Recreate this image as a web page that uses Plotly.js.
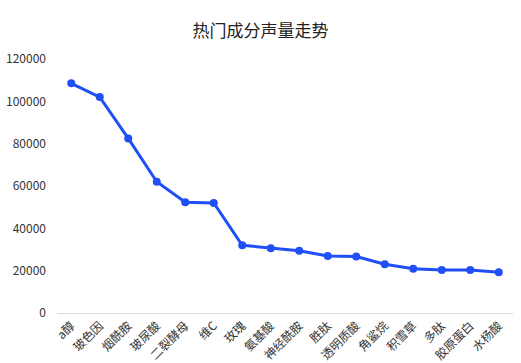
<!DOCTYPE html>
<html><head><meta charset="utf-8">
<script src="https://cdn.plot.ly/plotly-3.0.1.min.js"></script>
<style>html,body{margin:0;padding:0;background:#fff}</style>
</head><body>
<div id="chart" style="width:521px;height:363px"></div>
<script>
const categories = ["a醇","玻色因","烟酰胺","玻尿酸","二裂酵母","维C","玫瑰","氨基酸","神经酰胺","胜肽","透明质酸","角鲨烷","积雪草","多肽","胶原蛋白","水杨酸"];
const volumes = [108500,102000,82500,62000,52300,52000,32000,30600,29400,26900,26700,23000,20900,20300,20300,19200];
const yTicks = [0,20000,40000,60000,80000,100000,120000];

const font = "'Noto Sans CJK SC', 'Noto Sans', sans-serif";
Plotly.newPlot('chart', [{
  x: categories, y: volumes, type: 'scatter', mode: 'lines+markers',
  line: {color: '#1f4ff5', width: 3},
  marker: {color: '#1f4ff5', size: 8}
}], {
  width: 521, height: 363,
  margin: {l: 57, r: 8, t: 59, b: 50},
  paper_bgcolor: '#fff', plot_bgcolor: '#fff',
  title: {text: '热门成分声量走势', font: {family: font, size: 17, color: '#222'}, x: 0.5, xanchor: 'center', y: 0.915, yanchor: 'middle'},
  xaxis: {type: 'category', range: [-0.5, categories.length - 0.5], tickangle: -45, tickfont: {family: font, size: 12, color: '#333'},
    showgrid: false, showline: true, linecolor: '#d9d9d9', linewidth: 1, zeroline: false, ticks: ''},
  yaxis: {range: [0, 120000], tickvals: yTicks, ticktext: yTicks.map(String), showgrid: false, zeroline: false,
    showline: false, ticks: '', ticklabelstandoff: 10, tickfont: {family: font, size: 12, color: '#333'}},
  showlegend: false
}, {displayModeBar: false, staticPlot: true});
</script>
</body></html>
